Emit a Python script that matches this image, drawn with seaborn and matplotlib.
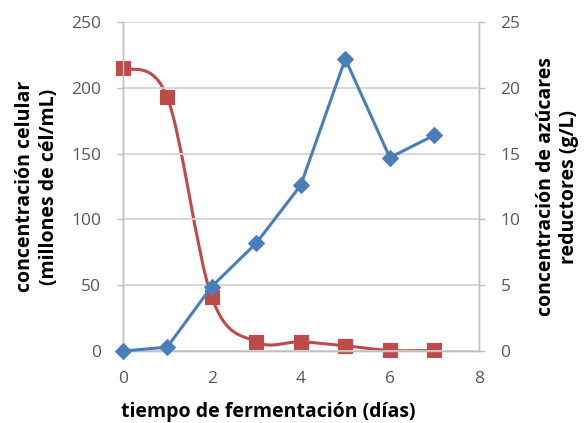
import numpy as np
import pandas as pd
import matplotlib
matplotlib.use("Agg")
import matplotlib.pyplot as plt
from matplotlib.path import Path
from matplotlib.patches import PathPatch
import seaborn as sns

# ---------- DATA ----------
dias = [0, 1, 2, 3, 4, 5, 6, 7]
celulas = [0, 3, 49, 82, 126, 222, 147, 164]          # millones de cél/mL
azucares = [21.5, 19.3, 4.1, 0.7, 0.7, 0.4, 0.05, 0.05]  # g/L
# --------------------------

BLUE = "#4A7EBB"
RED = "#BE4B48"
GRID = "#D4D4D4"
SPINE = "#BFBFBF"
TICK = "#595959"


def smooth_path(xs, ys):
    # Excel-style smoothed line: cubic Bezier segments (Catmull-Rom control points)
    xs = np.asarray(xs, float)
    ys = np.asarray(ys, float)
    n = len(xs)
    verts = [(xs[0], ys[0])]
    codes = [Path.MOVETO]
    for i in range(n - 1):
        p0 = i - 1 if i > 0 else i
        p3 = i + 2 if i + 2 < n else i + 1
        c1 = (xs[i] + (xs[i + 1] - xs[p0]) / 6, ys[i] + (ys[i + 1] - ys[p0]) / 6)
        c2 = (xs[i + 1] - (xs[p3] - xs[i]) / 6, ys[i + 1] - (ys[p3] - ys[i]) / 6)
        verts += [c1, c2, (xs[i + 1], ys[i + 1])]
        codes += [Path.CURVE4] * 3
    return Path(verts, codes)


def main():
    sns.set_style("white")
    plt.rcParams["font.family"] = ["Open Sans", "DejaVu Sans"]

    df = pd.DataFrame({"dias": dias, "celulas": celulas, "azucares": azucares})

    fig = plt.figure(figsize=(5.84, 4.23), dpi=100)
    ax = fig.add_axes([0.210, 0.170, 0.610, 0.778])
    ax2 = ax.twinx()

    # left axis: cell concentration
    sns.lineplot(data=df, x="dias", y="celulas", ax=ax, color=BLUE, linewidth=2.2,
                 marker="D", markersize=8, markeredgecolor=BLUE, zorder=3, clip_on=False)

    # right axis: reducing sugars (smoothed line)
    ax2.add_patch(PathPatch(smooth_path(dias, azucares), facecolor="none",
                            edgecolor=RED, linewidth=2.2, zorder=3))
    sns.scatterplot(data=df, x="dias", y="azucares", ax=ax2, color=RED, marker="s",
                    s=105, edgecolor=RED, zorder=4, clip_on=False)

    ax.set_xlim(0, 8)
    ax.set_ylim(0, 250)
    ax2.set_ylim(0, 25)
    ax.set_xticks([0, 2, 4, 6, 8])
    ax.set_yticks(range(0, 251, 50))
    ax2.set_yticks(range(0, 26, 5))

    ax.yaxis.grid(True, color=GRID, linewidth=1.3)
    ax.set_axisbelow(True)
    ax.set_zorder(ax2.get_zorder() + 1)
    ax.patch.set_visible(False)

    for a in (ax, ax2):
        a.spines["top"].set_visible(False)
        for side in ("left", "right", "bottom"):
            a.spines[side].set_color(SPINE)
            a.spines[side].set_linewidth(1.0)
        a.tick_params(labelcolor=TICK, color=SPINE, labelsize=12.5, length=4.5, width=1.0)
        a.tick_params(axis="y", pad=11)
    ax.tick_params(axis="x", pad=10)

    ax.set_xlabel("tiempo de fermentación (días)", fontsize=14, fontweight="bold",
                  color="black")
    ax.xaxis.set_label_coords(0.41, -0.155)
    ax.set_ylabel("concentración celular\n(millones de cél/mL)", fontsize=14,
                  fontweight="bold", color="black", labelpad=9, linespacing=1.25)
    ax2.set_ylabel("concentración de azúcares\nreductores (g/L)", fontsize=14,
                   fontweight="bold", color="black", labelpad=11, linespacing=1.25,
                   rotation=90, va="top")

    fig.savefig("out.png", dpi=100)
    plt.close(fig)


if __name__ == "__main__":
    main()
